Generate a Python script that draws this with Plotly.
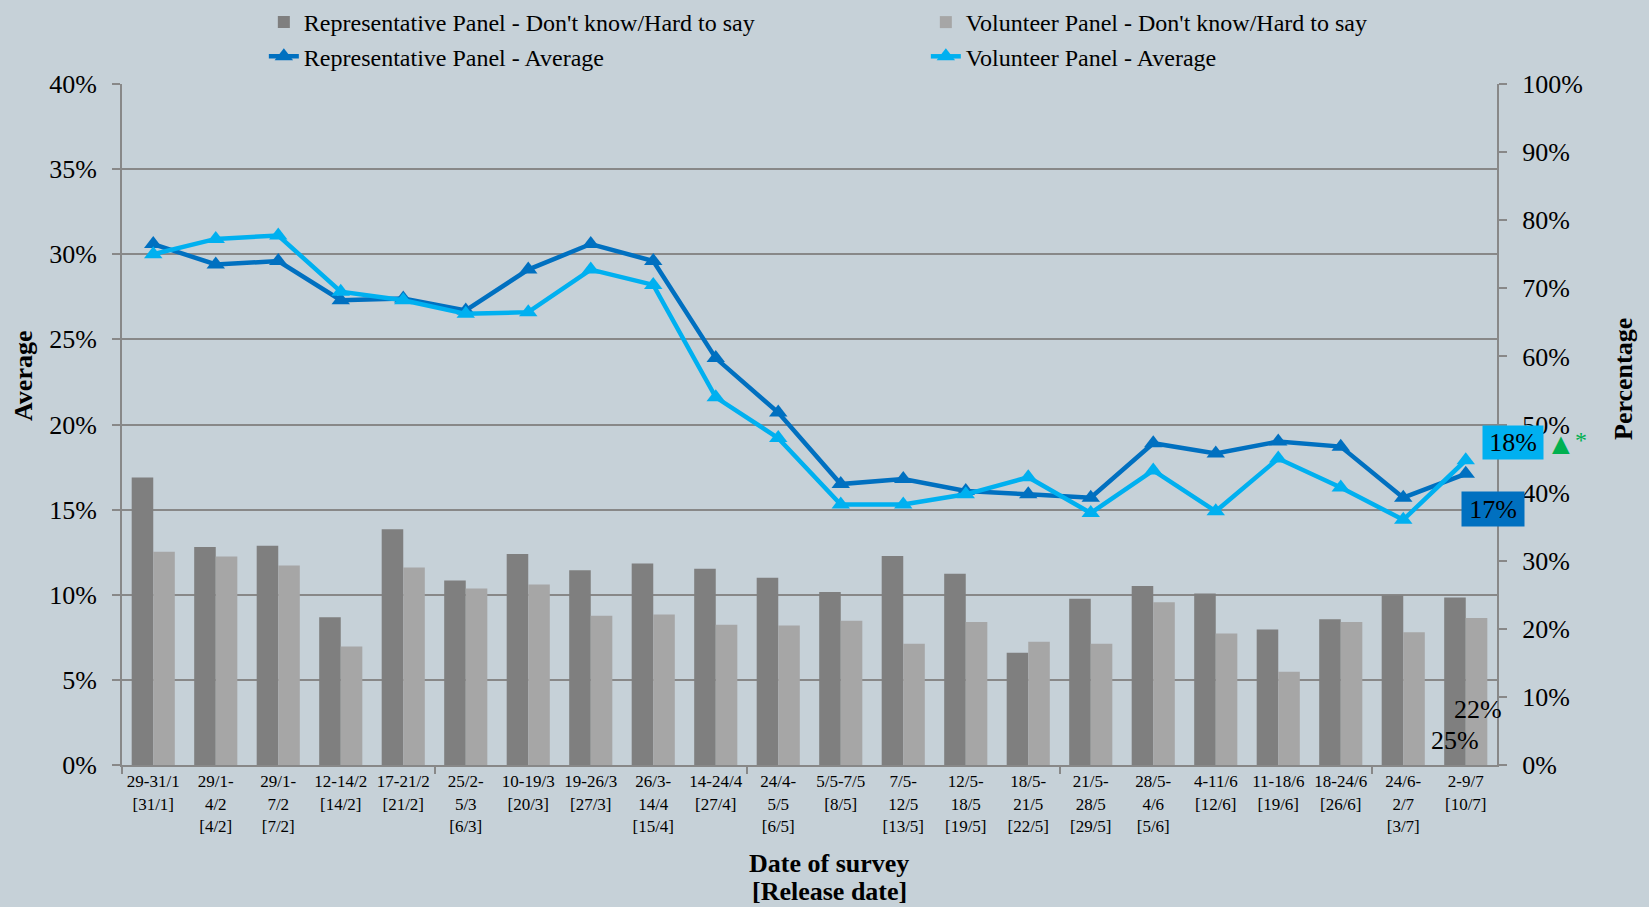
import plotly.graph_objects as go

categories = [
    "29-31/1<br>[31/1]", "29/1-<br>4/2<br>[4/2]", "29/1-<br>7/2<br>[7/2]",
    "12-14/2<br>[14/2]", "17-21/2<br>[21/2]", "25/2-<br>5/3<br>[6/3]",
    "10-19/3<br>[20/3]", "19-26/3<br>[27/3]", "26/3-<br>14/4<br>[15/4]",
    "14-24/4<br>[27/4]", "24/4-<br>5/5<br>[6/5]", "5/5-7/5<br>[8/5]",
    "7/5-<br>12/5<br>[13/5]", "12/5-<br>18/5<br>[19/5]", "18/5-<br>21/5<br>[22/5]",
    "21/5-<br>28/5<br>[29/5]", "28/5-<br>4/6<br>[5/6]", "4-11/6<br>[12/6]",
    "11-18/6<br>[19/6]", "18-24/6<br>[26/6]", "24/6-<br>2/7<br>[3/7]",
    "2-9/7<br>[10/7]",
]

# Don't know / Hard to say (right axis, percentage)
rep_dk = [42.2, 32.0, 32.2, 21.7, 34.6, 27.1, 31.0, 28.6, 29.6, 28.8, 27.5,
          25.4, 30.7, 28.1, 16.5, 24.4, 26.3, 25.2, 19.9, 21.4, 24.9, 24.6]
vol_dk = [31.3, 30.6, 29.3, 17.4, 29.0, 25.9, 26.5, 21.9, 22.1, 20.6, 20.5,
          21.2, 17.8, 21.0, 18.1, 17.8, 23.9, 19.3, 13.7, 21.0, 19.5, 21.6]

# Average (left axis)
rep_avg = [30.6, 29.4, 29.6, 27.3, 27.4, 26.7, 29.1, 30.6, 29.6, 23.9, 20.7,
           16.5, 16.8, 16.1, 15.9, 15.7, 18.9, 18.3, 19.0, 18.7, 15.7, 17.1]
vol_avg = [30.0, 30.9, 31.1, 27.8, 27.3, 26.5, 26.6, 29.1, 28.2, 21.6, 19.2,
           15.3, 15.3, 15.9, 16.9, 14.8, 17.3, 14.9, 18.0, 16.3, 14.4, 17.9]

left_ticks = [0, 5, 10, 15, 20, 25, 30, 35, 40]
right_ticks = [0, 10, 20, 30, 40, 50, 60, 70, 80, 90, 100]

FONT = "Liberation Serif"
BG = "#C6D1D8"
GRID = "#888888"
REP_BAR = "#7F7F7F"
VOL_BAR = "#A6A6A6"
REP_LINE = "#0070C0"
VOL_LINE = "#00B0F0"

xs = list(range(len(categories)))

fig = go.Figure()
fig.add_trace(go.Bar(x=xs, y=[v / 100 for v in rep_dk], name="Representative Panel - Don't know/Hard to say",
                     marker=dict(color=REP_BAR, line=dict(width=0)), yaxis="y"))
fig.add_trace(go.Bar(x=xs, y=[v / 100 for v in vol_dk], name="Volunteer Panel - Don't know/Hard to say",
                     marker=dict(color=VOL_BAR, line=dict(width=0)), yaxis="y"))
fig.add_trace(go.Scatter(x=xs, y=[v / 100 for v in rep_avg], name="Representative Panel - Average",
                         mode="lines+markers", line=dict(color=REP_LINE, width=4.5),
                         marker=dict(symbol="triangle-up", size=16, color=REP_LINE), yaxis="y2"))
fig.add_trace(go.Scatter(x=xs, y=[v / 100 for v in vol_avg], name="Volunteer Panel - Average",
                         mode="lines+markers", line=dict(color=VOL_LINE, width=4.5),
                         marker=dict(symbol="triangle-up", size=16, color=VOL_LINE), yaxis="y2"))

fig.update_layout(
    width=1649, height=907,
    margin=dict(l=122, r=152, t=84, b=142, autoexpand=False),
    paper_bgcolor=BG, plot_bgcolor=BG,
    font=dict(family=FONT, color="black"),
    barmode="group", bargap=0.31, bargroupgap=0,
    showlegend=True,
    legend=dict(orientation="h", xref="container", yref="container",
                x=0.160, y=1.0, xanchor="left", yanchor="top",
                entrywidth=617, bgcolor="rgba(0,0,0,0)",
                font=dict(family=FONT, size=24, color="black")),
    xaxis=dict(range=[-0.5, len(categories) - 0.5], tickmode="array", tickvals=xs, ticktext=categories,
               ticks="", showgrid=False, showline=True, linecolor=GRID, linewidth=2,
               tickfont=dict(family=FONT, size=17, color="black"), tickangle=0,
               minor=dict(ticks="outside", tick0=-0.5, dtick=5, ticklen=7, tickcolor=GRID, tickwidth=2,
                          showgrid=False),
               zeroline=False),
    yaxis=dict(side="right", range=[0, 1], tickmode="array", tickvals=[v / 100 for v in right_ticks],
               tickformat=".0%", ticks="outside", ticklen=8, tickcolor=GRID, tickwidth=2,
               showline=True, linecolor=GRID, linewidth=2, showgrid=False, zeroline=False,
               ticklabelstandoff=10,
               tickfont=dict(family=FONT, size=26, color="black")),
    yaxis2=dict(side="left", overlaying="y", range=[0, 0.4], tickmode="array",
                tickvals=[v / 100 for v in left_ticks], tickformat=".0%",
                ticks="outside", ticklen=8, tickcolor=GRID, tickwidth=2,
                showline=True, linecolor=GRID, linewidth=2,
                showgrid=True, gridcolor=GRID, gridwidth=2, zeroline=False,
                ticklabelstandoff=10,
                tickfont=dict(family=FONT, size=26, color="black")),
)

def px_x(px):
    return (px - 122) / 1375

def px_y(py):
    return (765 - py) / 681

annots = [
    dict(text="<b>Average</b>", x=px_x(23), y=px_y(376), textangle=-90, font=dict(size=26)),
    dict(text="<b>Percentage</b>", x=px_x(1623), y=px_y(379), textangle=-90, font=dict(size=26)),
    dict(text="<b>Date of survey</b>", x=px_x(829), y=px_y(863), font=dict(size=26)),
    dict(text="<b>[Release date]</b>", x=px_x(829), y=px_y(892), font=dict(size=26)),
    dict(text="18%", x=px_x(1513), y=px_y(442), bgcolor=VOL_LINE, font=dict(size=26),
         borderpad=0, width=60, height=33),
    dict(text="17%", x=px_x(1493), y=px_y(509), bgcolor=REP_LINE, font=dict(size=26),
         borderpad=0, width=62, height=34),
    dict(text="▲", x=px_x(1561), y=px_y(443), font=dict(size=30, color="#00B050")),
    dict(text="*", x=px_x(1581), y=px_y(440), font=dict(size=24, color="#00B050")),
    dict(text="22%", x=px_x(1478), y=px_y(709), font=dict(size=26)),
    dict(text="25%", x=px_x(1455), y=px_y(740), font=dict(size=26)),
]
for a in annots:
    font = dict(family=FONT, color="black")
    font.update(a.pop("font"))
    fig.add_annotation(xref="paper", yref="paper", showarrow=False, xanchor="center", yanchor="middle",
                       font=font, **a)

fig.write_html("out.html", config={"displayModeBar": False},
               post_script="document.body.style.margin='0';")
